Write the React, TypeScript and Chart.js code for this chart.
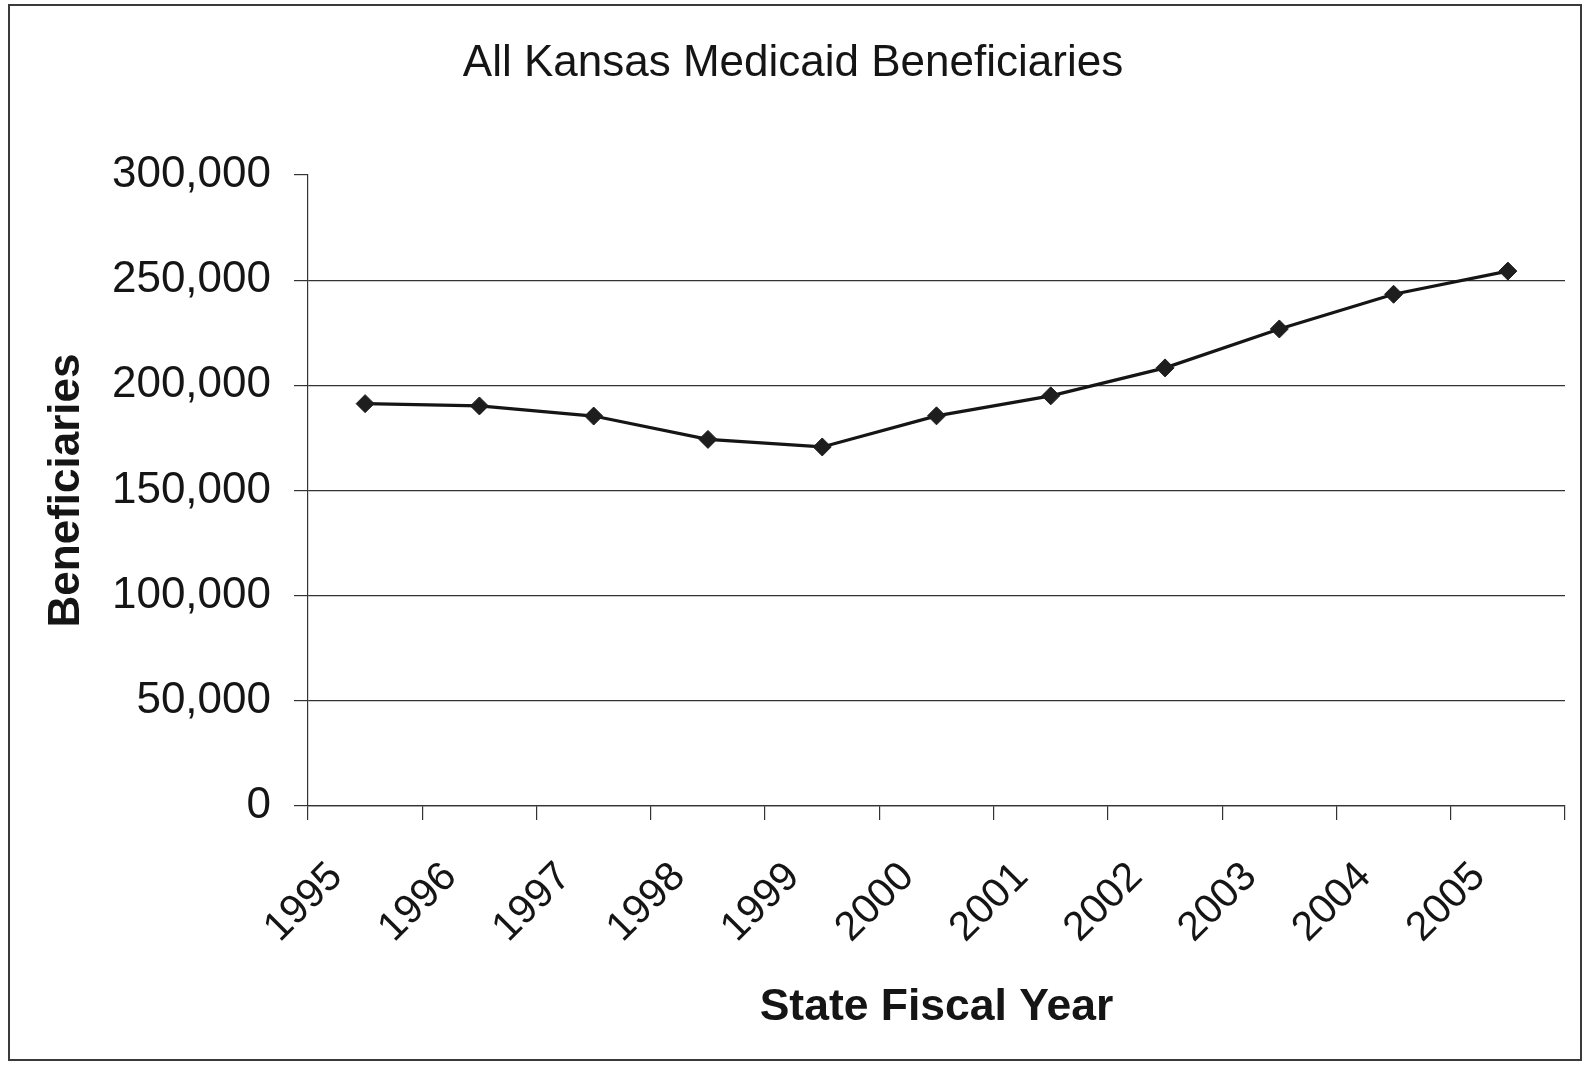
import React, { useEffect, useRef } from "react";
import { Chart, registerables } from "chart.js";

Chart.register(...registerables);

const years = ["1995", "1996", "1997", "1998", "1999", "2000", "2001", "2002", "2003", "2004", "2005"];
const beneficiaries = [191300, 190200, 185400, 174300, 170700, 185500, 195000, 208300, 226800, 243300, 254300];
const yTickValues = [0, 50000, 100000, 150000, 200000, 250000, 300000];

const chartTitle = "All Kansas Medicaid Beneficiaries";
const xTitle = "State Fiscal Year";
const yTitle = "Beneficiaries";

const FONT = "'Liberation Sans', Arial, Helvetica, sans-serif";
const INK = "#151515";
const LINE = "#333333";

const framePlugin = {
  id: "frame",
  beforeDraw(chart: any) {
    const ctx = chart.ctx;
    ctx.save();
    ctx.fillStyle = "#ffffff";
    ctx.fillRect(0, 0, chart.width, chart.height);
    ctx.strokeStyle = "#3a3a3a";
    ctx.lineWidth = 2;
    ctx.strokeRect(9, 5, 1572, 1055);
    ctx.restore();
  },
  afterDraw(chart: any) {
    const ctx = chart.ctx;
    ctx.save();
    ctx.fillStyle = INK;
    ctx.font = `normal 44px ${FONT}`;
    ctx.textAlign = "center";
    ctx.textBaseline = "middle";
    ctx.fillText(chartTitle, 793, 64);
    ctx.restore();
  },
};

export default function App() {
  const canvasRef = useRef<HTMLCanvasElement | null>(null);

  useEffect(() => {
    if (!canvasRef.current) return;
    const chart = new Chart(canvasRef.current, {
      type: "line",
      data: {
        labels: years,
        datasets: [
          {
            label: yTitle,
            data: beneficiaries,
            borderColor: INK,
            borderWidth: 3.2,
            pointStyle: "rectRot",
            pointRadius: 9,
            pointBackgroundColor: "#1e1e1e",
            pointBorderColor: "#1e1e1e",
            pointBorderWidth: 1,
            tension: 0,
            fill: false,
          },
        ],
      },
      options: {
        responsive: false,
        animation: false,
        devicePixelRatio: 1,
        layout: { padding: { left: 40, right: 20, top: 175, bottom: 34 } },
        plugins: {
          legend: { display: false },
          tooltip: { enabled: false },
          title: { display: false },
        },
        scales: {
          x: {
            type: "category",
            offset: true,
            grid: {
              display: true,
              drawOnChartArea: false,
              drawTicks: true,
              tickLength: 14,
              offset: true,
              color: LINE,
              lineWidth: 1.2,
            },
            border: { display: true, color: LINE, width: 1.2 },
            ticks: {
              autoSkip: false,
              minRotation: 45,
              maxRotation: 45,
              padding: 33,
              labelOffset: -29,
              color: INK,
              font: { family: FONT, size: 41 },
            },
            title: {
              display: true,
              text: xTitle,
              color: INK,
              padding: 0,
              font: { family: FONT, size: 44.5, weight: "bold", lineHeight: 1.2 },
            },
            afterFit: (s: any) => {
              s.height = 228;
            },
          },
          y: {
            min: 0,
            max: 300000,
            afterBuildTicks: (s: any) => {
              s.ticks = yTickValues.map((v) => ({ value: v }));
            },
            ticks: {
              padding: 23,
              color: INK,
              font: { family: FONT, size: 44 },
              callback: (v: any) => Number(v).toLocaleString("en-US"),
            },
            grid: {
              color: (ctx: any) =>
                ctx.tick && ctx.tick.value === 300000 ? "rgba(0,0,0,0)" : LINE,
              tickColor: LINE,
              tickLength: 14,
              lineWidth: 1.2,
            },
            border: { display: true, color: LINE, width: 1.2 },
            title: {
              display: true,
              text: yTitle,
              color: INK,
              padding: 0,
              font: { family: FONT, size: 44, weight: "bold", lineHeight: 1.2 },
            },
            afterFit: (s: any) => {
              s.width = 268;
            },
          },
        },
      },
      plugins: [framePlugin],
    });
    return () => chart.destroy();
  }, []);

  return (
    <div style={{ position: "absolute", left: 0, top: 0, width: 1585, height: 1068 }}>
      <canvas ref={canvasRef} width={1585} height={1068} style={{ width: 1585, height: 1068, display: "block" }} />
    </div>
  );
}
